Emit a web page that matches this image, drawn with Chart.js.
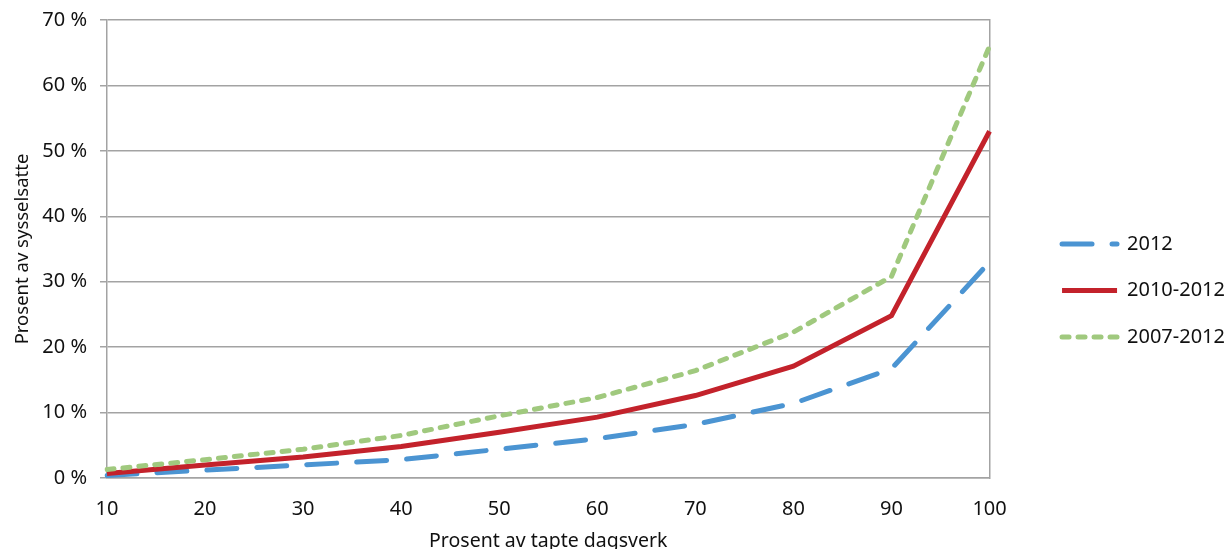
<!DOCTYPE html>
<html>
<head>
<meta charset="utf-8">
<script src="https://cdn.jsdelivr.net/npm/chart.js@4/dist/chart.umd.min.js"></script>
<style>
  html, body { margin: 0; padding: 0; background: #fff; }
  #wrap { width: 1230px; height: 549px; }
</style>
</head>
<body>
<div id="wrap"><canvas id="chart"></canvas></div>
<script>
// x: prosent av tapte dagsverk
var categories = [10, 20, 30, 40, 50, 60, 70, 80, 90, 100];

// y: prosent av sysselsatte
var series2012     = [0.4, 1.2, 2.0, 2.8, 4.4, 6.0, 8.2, 11.4, 16.7, 33.0];
var series20102012 = [0.7, 2.0, 3.2, 4.8, 7.0, 9.3, 12.6, 17.1, 24.8, 53.0];
var series20072012 = [1.3, 2.8, 4.4, 6.5, 9.5, 12.3, 16.4, 22.3, 30.8, 66.0];

var seriesNames = ["2012", "2010-2012", "2007-2012"];
var yTicks = [0, 10, 20, 30, 40, 50, 60, 70];

var gridGray = "#a3a3a3";
var font = "'Noto Sans', 'Open Sans', sans-serif";

var data = {
  labels: categories,
  datasets: [
    {
      label: seriesNames[0],
      data: series2012,
      borderColor: "#4b94d2",
      backgroundColor: "#4b94d2",
      borderWidth: 5,
      borderDash: [30, 20],
      borderCapStyle: "round",
      pointRadius: 0,
      tension: 0,
      order: 3
    },
    {
      label: seriesNames[1],
      data: series20102012,
      borderColor: "#c3222b",
      backgroundColor: "#c3222b",
      borderWidth: 5,
      borderCapStyle: "butt",
      pointRadius: 0,
      tension: 0,
      order: 2
    },
    {
      label: seriesNames[2],
      data: series20072012,
      borderColor: "#a0c97e",
      backgroundColor: "#a0c97e",
      borderWidth: 5,
      borderDash: [7, 9],
      borderCapStyle: "round",
      pointRadius: 0,
      tension: 0,
      order: 1
    }
  ]
};

// legend samples as lines, with the dash of each dataset
function legendLabels(chart){
  var items = Chart.defaults.plugins.legend.labels.generateLabels(chart);
  items.forEach(function(item){
    var ds = chart.data.datasets[item.datasetIndex];
    item.lineDash = ds.borderDash || [];
    item.lineCap = ds.borderCapStyle || "butt";
    item.lineWidth = ds.borderWidth;
    item.strokeStyle = ds.borderColor;
    item.pointStyle = "line";
  });
  return items;
}

var options = {
  responsive: true,
  maintainAspectRatio: false,
  animation: false,
  layout: { padding: { top: 16, left: 0, right: -5, bottom: 0 } },
  plugins: {
    tooltip: { enabled: false },
    legend: {
      position: "right",
      title: { display: true, text: " ", padding: 0, font: { size: 13.3, lineHeight: 1.2 } },
      labels: {
        usePointStyle: true,
        pointStyle: "line",
        pointStyleWidth: 55,
        padding: 26.5,
        color: "#111",
        font: { family: font, size: 20 },
        generateLabels: legendLabels,
        sort: function(a, b){ return a.datasetIndex - b.datasetIndex; }
      }
    }
  },
  scales: {
    x: {
      type: "category",
      offset: false,
      grid: { display: false },
      border: { display: true, color: gridGray, width: 1.5 },
      ticks: { color: "#111", padding: 11, maxRotation: 0, font: { family: font, size: 20 } },
      title: {
        display: true,
        text: "Prosent av tapte dagsverk",
        color: "#111",
        padding: { top: 0, bottom: 0 },
        font: { family: font, size: 19.5, lineHeight: 0.8 }
      },
      afterFit: function(scale){ scale.height = 71; }
    },
    y: {
      min: 0,
      max: 70,
      afterBuildTicks: function(scale){
        scale.ticks = yTicks.map(function(v){ return { value: v }; });
      },
      grid: { color: gridGray, lineWidth: 1.5, tickLength: 7 },
      border: { display: true, color: gridGray, width: 1.5 },
      ticks: {
        color: "#111",
        padding: 13,
        font: { family: font, size: 20, lineHeight: 0.7 },
        callback: function(v){ return v + " %"; }
      },
      title: {
        display: true,
        text: "Prosent av sysselsatte",
        color: "#111",
        padding: { top: 12, bottom: 0 },
        font: { family: font, size: 18.5 }
      },
      afterFit: function(scale){ scale.width = 107; }
    },
    yRight: {
      type: "linear",
      position: "right",
      display: true,
      grid: { display: false },
      border: { display: true, color: gridGray, width: 1.5 },
      ticks: { display: false },
      afterFit: function(scale){ scale.width = 46; }
    }
  }
};

var ctx = document.getElementById("chart").getContext("2d");
window.chart = new Chart(ctx, {
  type: "line",
  data: data,
  options: options
});
</script>
</body>
</html>
